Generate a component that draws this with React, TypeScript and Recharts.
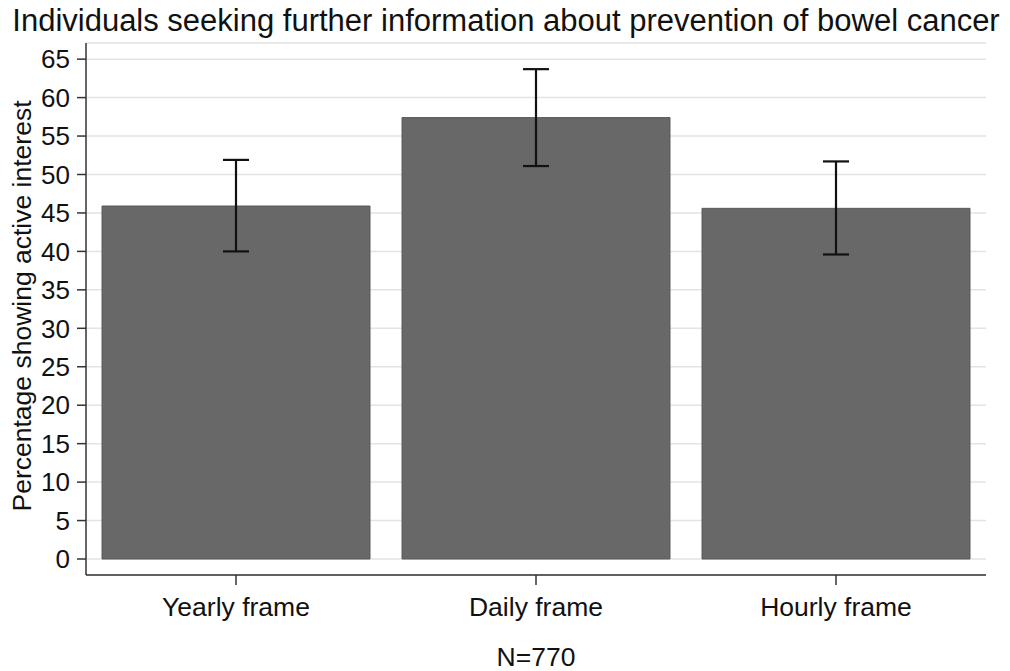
import React from 'react';
import { BarChart, Bar, XAxis, YAxis, CartesianGrid, ErrorBar } from 'recharts';

const CATEGORIES = ['Yearly frame', 'Daily frame', 'Hourly frame'];
const PERCENT = [45.9, 57.4, 45.6];
const CI_LOW = [40.0, 51.1, 39.6];
const CI_HIGH = [51.9, 63.7, 51.7];
const Y_TICKS = [0, 5, 10, 15, 20, 25, 30, 35, 40, 45, 50, 55, 60, 65];

const TITLE = 'Individuals seeking further information about prevention of bowel cancer';
const Y_TITLE = 'Percentage showing active interest';
const NOTE = 'N=770';

const FONT = '"Liberation Sans", Arial, sans-serif';

const data = CATEGORIES.map((name, i) => ({
  name,
  pct: PERCENT[i],
  err: [PERCENT[i] - CI_LOW[i], CI_HIGH[i] - PERCENT[i]],
}));

const App: React.FC = () => {
  return (
    <div style={{ position: 'absolute', left: 0, top: 0, width: 1010, height: 671, background: '#fff', fontFamily: FONT }}>
      <BarChart
        width={1010}
        height={671}
        data={data}
        margin={{ top: 43, right: 24, bottom: 0, left: 0 }}
        barSize={268}
      >
        <CartesianGrid vertical={false} stroke="#e3e3e3" strokeWidth={1.5} />
        <XAxis
          dataKey="name"
          axisLine={{ stroke: '#333', strokeWidth: 1.5 }}
          tickLine={{ stroke: '#333', strokeWidth: 1.5 }}
          tickSize={10}
          tickMargin={12}
          tick={{ fill: '#111', fontSize: 26.5, fontFamily: FONT }}
          height={96}
        />
        <YAxis
          type="number"
          domain={[-2.08, 67.1]}
          ticks={Y_TICKS}
          interval={0}
          width={86}
          axisLine={{ stroke: '#333', strokeWidth: 1.5 }}
          tickLine={{ stroke: '#333', strokeWidth: 1.5 }}
          tickSize={9}
          tickMargin={7}
          tick={{ fill: '#111', fontSize: 26, fontFamily: FONT }}
        />
        <Bar dataKey="pct" fill="#686868" stroke="#5a5a5a" strokeWidth={1} isAnimationActive={false}>
          <ErrorBar dataKey="err" width={13} stroke="#111" strokeWidth={2.2} isAnimationActive={false} />
        </Bar>
      </BarChart>
      <svg width={1010} height={671} style={{ position: 'absolute', left: 0, top: 0, pointerEvents: 'none' }}>
        <text x={506} y={31} textAnchor="middle" fontSize={31} fill="#111" fontFamily={FONT}>
          {TITLE}
        </text>
        <text
          x={31}
          y={306}
          textAnchor="middle"
          fontSize={26.5}
          fill="#111"
          fontFamily={FONT}
          transform="rotate(-90, 31, 306)"
        >
          {Y_TITLE}
        </text>
        <text x={536} y={666} textAnchor="middle" fontSize={26.5} fill="#111" fontFamily={FONT}>
          {NOTE}
        </text>
      </svg>
    </div>
  );
};

export default App;
